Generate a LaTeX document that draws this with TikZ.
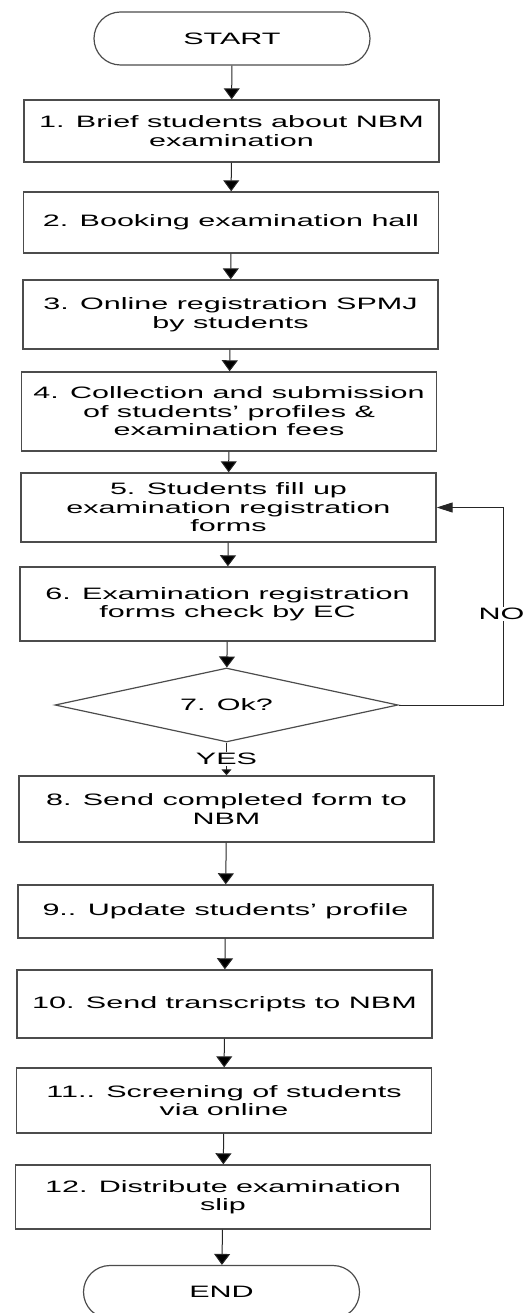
\documentclass[tikz,border=0pt]{standalone}
\usepackage{fontspec}
\setmainfont{Liberation Sans}[FakeStretch=1.85]
\usetikzlibrary{arrows.meta,shapes.geometric,shapes.misc}

\tikzset{
  stepbox/.style={rectangle, draw=black!70, line width=1.4pt, minimum width=415pt,
    inner sep=0pt, align=center, font=\fontsize{16.5}{18.5}\selectfont},
  term/.style={rounded rectangle, draw=black!70, line width=1.2pt, minimum width=276pt,
    minimum height=53pt, inner sep=0pt, font=\fontsize{16.5}{18.5}\selectfont},
  check/.style={diamond, aspect=4.6, draw=black!70, line width=1.2pt, minimum width=343pt,
    minimum height=74pt, inner sep=0pt, font=\fontsize{16.5}{18.5}\selectfont},
  flow/.style={draw=black!85, line width=1pt, -{Triangle[width=16pt,length=11pt]}},
  answer/.style={fill=white, inner sep=1pt, font=\fontsize{16.5}{18.5}\selectfont}
}

\begin{document}
\begin{tikzpicture}[x=1pt,y=1pt]
\useasboundingbox (0,0) rectangle (526,-1313);

\node[term]				(S) at (232,-38.5)		{START};
  \node[stepbox, minimum height=62pt]	(B1) at (231.5,-131)	{1. Brief students about NBM\\examination};
  \node[stepbox, minimum height=61pt]	(B2) at (231,-222.5)	{2. Booking examination hall};
  \node[stepbox, minimum height=69pt]	(B3) at (230.5,-314.5)	{3. Online registration SPMJ\\by students};
  \node[stepbox, minimum height=79pt]	(B4) at (229,-411.5)	{4. Collection and submission\\of students’ profiles \&\\examination fees};
  \node[stepbox, minimum height=69pt]	(B5) at (228.5,-507.5)	{5. Students fill up\\examination registration\\forms};
  \node[stepbox, minimum height=74pt]	(B6) at (227.5,-604)	{6. Examination registration\\forms check by EC};
  \node[check]				(D7) at (226.5,-705)	{7. Ok?};
  \node[stepbox, minimum height=66pt]	(B8) at (226.5,-809)	{8. Send completed form to\\NBM};
  \node[stepbox, minimum height=53pt]	(B9) at (225.5,-911.5)	{9.. Update students’ profile};
  \node[stepbox, minimum height=68pt]	(B10) at (224.5,-1004)	{10. Send transcripts to NBM};
  \node[stepbox, minimum height=65pt]	(B11) at (224,-1100.5)	{11.. Screening of students\\via online};
  \node[stepbox, minimum height=64pt]	(B12) at (223,-1197)	{12. Distribute examination\\slip};
\node[term]				(E) at (221.5,-1292)	{END};

  \coordinate (R) at (503,-705);

  \path [flow]
  (S) edge (B1) (B1) edge (B2) (B2) edge (B3) (B3) edge (B4)
  (B4) edge (B5) (B5) edge (B6) (B6) edge (D7)
  (B8) edge (B9) (B9) edge (B10) (B10) edge (B11) (B11) edge (B12) (B12) edge (E);

  \path [flow, -{Triangle[width=10pt,length=6pt]}]
  (D7) edge node[answer] {YES} (B8);

  % back to step 5
  \draw [flow, -{Triangle[width=10pt,length=16pt]}]
  (D7.east) -- (R) |- node[answer, pos=0.23, xshift=-1.5pt] {NO} (B5.east);

\end{tikzpicture}
\end{document}
